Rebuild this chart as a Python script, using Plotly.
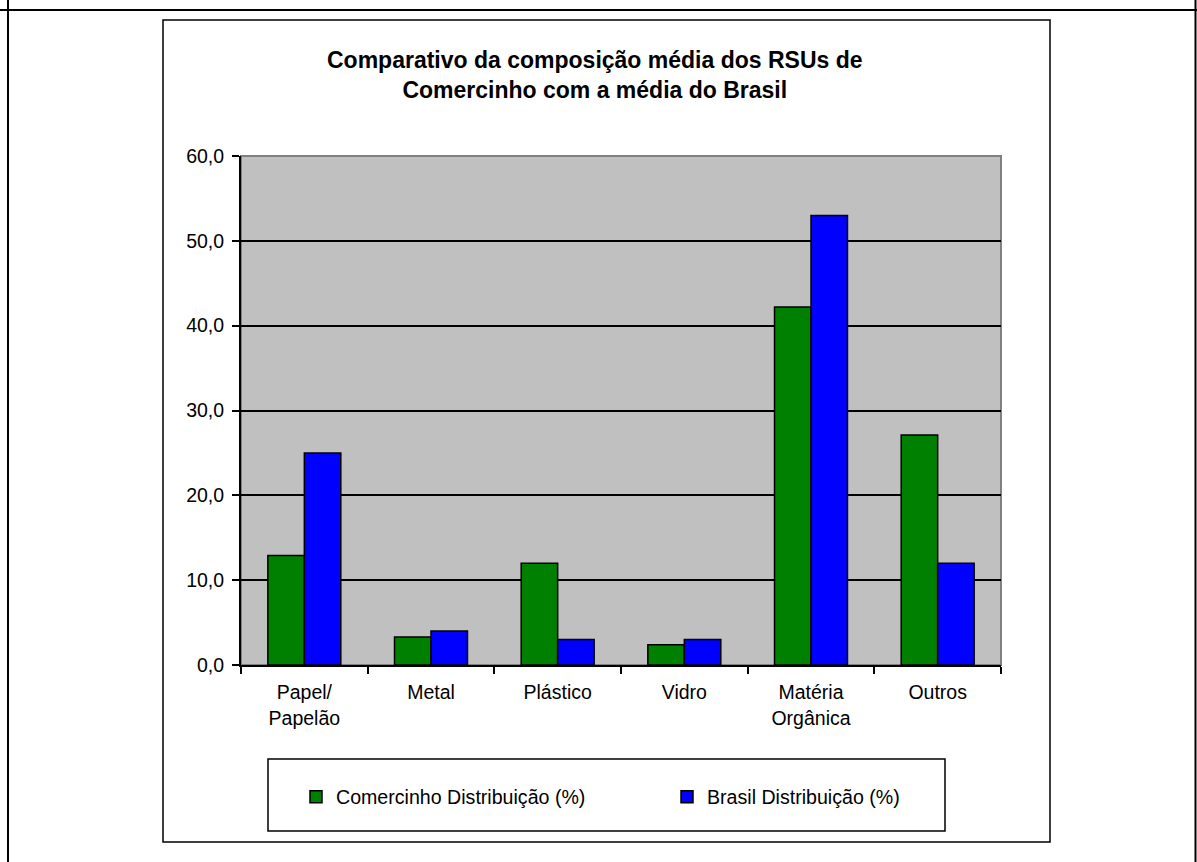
import plotly.graph_objects as go

categories = ["Papel/<br>Papelão", "Metal", "Plástico", "Vidro", "Matéria<br>Orgânica", "Outros"]
comercinho = [12.9, 3.3, 12.0, 2.4, 42.2, 27.1]
brasil = [25.0, 4.0, 3.0, 3.0, 53.0, 12.0]
series_names = ["Comercinho Distribuição (%)", "Brasil Distribuição (%)"]
y_ticks = [0, 10, 20, 30, 40, 50, 60]

W, H = 1197, 862
L, R, T, B = 241, 1001, 156, 665

def px(x):
    return (x - L) / (R - L)

def py(y):
    return (B - y) / (B - T)

FONT = "Liberation Sans, Arial, sans-serif"

fig = go.Figure()
fig.add_trace(go.Bar(x=categories, y=comercinho, name=series_names[0],
                     marker=dict(color="#008000", line=dict(color="black", width=1.5))))
fig.add_trace(go.Bar(x=categories, y=brasil, name=series_names[1],
                     marker=dict(color="#0000FF", line=dict(color="black", width=1.5))))

shapes = [
    # outer page frame
    dict(type="line", xref="paper", yref="paper", x0=px(0), x1=px(1197), y0=py(10), y1=py(10),
         line=dict(color="black", width=2)),
    dict(type="line", xref="paper", yref="paper", x0=px(8), x1=px(8), y0=py(0), y1=py(862),
         line=dict(color="black", width=2)),
    dict(type="line", xref="paper", yref="paper", x0=px(1195.5), x1=px(1195.5), y0=py(0), y1=py(862),
         line=dict(color="black", width=2)),
    # chart box
    dict(type="rect", xref="paper", yref="paper", x0=px(163), x1=px(1050), y0=py(20), y1=py(842),
         line=dict(color="black", width=1.5), layer="below"),
    # plot area gray border
    dict(type="rect", xref="paper", yref="paper", x0=0, x1=1, y0=0, y1=1,
         line=dict(color="#808080", width=2), layer="below"),
    # legend box
    dict(type="rect", xref="paper", yref="paper", x0=px(268), x1=px(945), y0=py(759), y1=py(831),
         line=dict(color="black", width=1.5)),
]

fig.update_layout(
    width=W, height=H,
    margin=dict(l=L, r=W - R, t=T, b=H - B),
    paper_bgcolor="white",
    plot_bgcolor="#C0C0C0",
    separators=",.",
    barmode="group",
    bargap=0.424,
    bargroupgap=0,
    font=dict(family=FONT, size=19.5, color="black"),
    shapes=shapes,
    showlegend=True,
    legend=dict(orientation="h", x=px(296), y=py(797), xanchor="left", yanchor="middle",
                bgcolor="rgba(0,0,0,0)", borderwidth=0,
                font=dict(family=FONT, size=19.6, color="black"),
                entrywidth=326, entrywidthmode="pixels", traceorder="normal"),
    annotations=[
        dict(text="<b>Comparativo da composição média dos RSUs de<br>Comercinho com a média do Brasil</b>",
             xref="paper", yref="paper", x=px(595), y=py(74.5), xanchor="center", yanchor="middle",
             showarrow=False, font=dict(family=FONT, size=23, color="black"), align="center"),
    ],
)

fig.update_yaxes(range=[0, 60], tickvals=y_ticks, tickformat=".1f",
                 showgrid=True, gridcolor="black", gridwidth=1.5,
                 showline=True, linecolor="black", linewidth=2,
                 ticks="outside", ticklen=7, tickcolor="black", tickwidth=2,
                 ticklabelstandoff=4,
                 zeroline=False, fixedrange=True)
fig.update_xaxes(showline=True, linecolor="black", linewidth=2,
                 ticks="outside", ticklen=7, tickcolor="black", tickwidth=2,
                 tickson="boundaries", ticklabelstandoff=9,
                 showgrid=False, fixedrange=True)

fig.write_html("out.html")
